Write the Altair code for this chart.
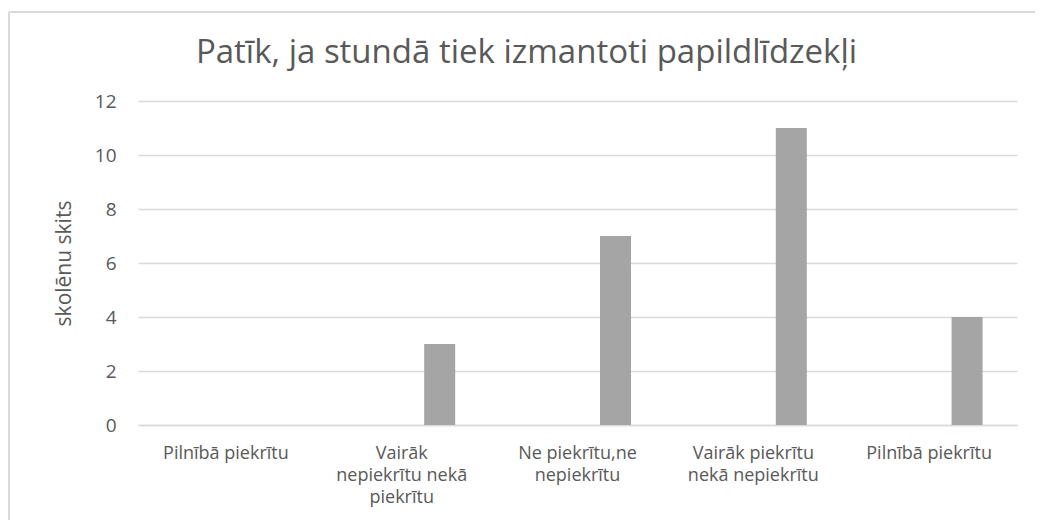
import json
import altair as alt
import pandas as pd

# ---- data ----
category_lines = [
    ["Pilnībā piekrītu"],
    ["Vairāk", "nepiekrītu nekā", "piekrītu"],
    ["Ne piekrītu,ne", "nepiekrītu"],
    ["Vairāk piekrītu", "nekā nepiekrītu"],
    ["Pilnībā piekrītu"],
]
values = [0, 3, 7, 11, 4]
series_domain = ["Sērija 1", "Sērija 2"]
bar_series = "Sērija 2"
y_ticks = [0, 2, 4, 6, 8, 10, 12]
title_text = "Patīk, ja stundā tiek izmantoti papildlīdzekļi"
y_title = "skolēnu skits"

keys = [str(i) for i in range(len(category_lines))]
df = pd.DataFrame({
    "key": keys,
    "label": [" ".join(l) for l in category_lines],
    "value": values,
    "series": [bar_series] * len(values),
})

label_expr = json.dumps(category_lines, ensure_ascii=False) + "[toNumber(datum.value)]"

FONT = "Open Sans"
TXT = "#595959"
GRID = "#D9D9D9"

bars = alt.Chart(df).mark_bar(color="#A5A5A5").encode(
    x=alt.X(
        "key:N",
        sort=keys,
        scale=alt.Scale(paddingInner=0, paddingOuter=0),
        axis=alt.Axis(
            title=None,
            labelExpr=label_expr,
            labelAngle=0,
            labelFont=FONT,
            labelFontSize=18,
            labelColor=TXT,
            labelLineHeight=22,
            labelPadding=33,
            labelBaseline="alphabetic",
            ticks=False,
            domain=True,
            domainColor=GRID,
            domainWidth=1.5,
            grid=False,
        ),
    ),
    xOffset=alt.XOffset(
        "series:N",
        scale=alt.Scale(domain=series_domain, paddingInner=0.592, paddingOuter=0.4526),
    ),
    y=alt.Y(
        "value:Q",
        scale=alt.Scale(domain=[0, 12], nice=False),
        axis=alt.Axis(
            title=y_title,
            titleFont=FONT,
            titleFontSize=21,
            titleFontWeight="normal",
            titleColor=TXT,
            titlePadding=20,
            values=y_ticks,
            labelFont=FONT,
            labelFontSize=19,
            labelColor=TXT,
            labelPadding=22,
            ticks=False,
            domain=False,
            gridColor=GRID,
            gridWidth=1.5,
        ),
    ),
    tooltip=["label:N", "value:Q"],
)

frame_src = pd.DataFrame({"f": [0]})
frame_top = alt.Chart(frame_src).mark_rule(color=GRID, strokeWidth=2).encode(
    x=alt.value(-129), x2=alt.value(900), y=alt.value(-89)
)
frame_left = alt.Chart(frame_src).mark_rule(color=GRID, strokeWidth=2).encode(
    x=alt.value(-129), y=alt.value(-89), y2=alt.value(419)
)

chart = alt.layer(frame_top, frame_left, bars).properties(
    width=879,
    height=324,
    autosize=alt.AutoSizeParams(type="none"),
    padding={"left": 130, "top": 93, "right": 18, "bottom": 95},
    title=alt.TitleParams(
        text=title_text,
        font=FONT,
        fontSize=33,
        fontWeight="normal",
        color=TXT,
        anchor="middle",
        baseline="alphabetic",
        offset=-85,
        dx=-51,
    ),
).configure(background="white", view=alt.ViewConfig(stroke=None, strokeWidth=0))

chart.save("out.html", embed_options={"renderer": "svg", "actions": False})
